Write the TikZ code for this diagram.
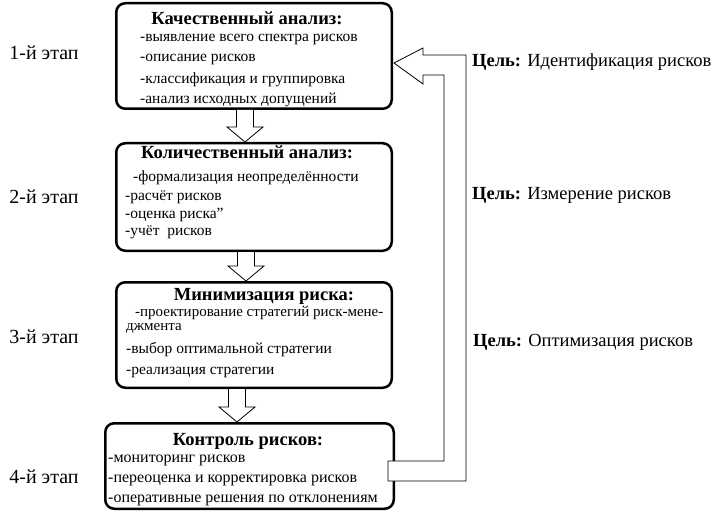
\documentclass[tikz,border=0pt]{standalone}
\usepackage{fontspec}
\setmainfont{Liberation Serif}
\usetikzlibrary{calc}
\tikzset{
  stagebox/.style={draw, line width=2.5pt, rounded corners=9pt, fill=white},
  blockarrow/.style={draw, line width=0.8pt, fill=white, line join=miter},
  boxtitle/.style={inner sep=0pt, font=\fontsize{18.5}{20}\selectfont\bfseries},
  itemtext/.style={anchor=west, inner sep=0pt, font=\fontsize{15.5}{17}\selectfont},
  stagelabel/.style={inner sep=0pt, font=\fontsize{20}{22}\selectfont},
  goallabel/.style={anchor=west, inner sep=0pt, font=\fontsize{18.5}{20}\selectfont},
}
\def\stagearrow(#1)(#2)(#3){%
  \coordinate (ax) at (#3,0);
  \draw[blockarrow] ($(ax |- #1.south)+(-8.5,0)$) -- ($(ax |- #2.north)+(-8.5,-15)$) -- ++(-9.5,0) -- (ax |- #2.north) -- ++(18,-15) -- ++(-9.5,0) -- ($(ax |- #1.south)+(8.5,0)$);}

\begin{document}
\begin{tikzpicture}[x=1pt, y=-1pt]
  %%%%% START %%%%%
  \useasboundingbox (0,0) rectangle (720,513);

  \node[stagebox, minimum width=275.5pt, minimum height=105.5pt] (qual) at (254,56) {};
  \node[stagebox, minimum width=275.5pt, minimum height=107.5pt] (quant) at (254,197) {};
  \node[stagebox, minimum width=275.5pt, minimum height=105.5pt] (minim) at (254,335) {};
  \node[stagebox, minimum width=288.5pt, minimum height=85.5pt] (ctrl) at (249.5,466) {};

  % stage 1
  \node[boxtitle] (qualtitle) at (247,18) {Качественный анализ:};
  \node[itemtext] (q1) at (140,40) {-выявление всего спектра рисков};
  \node[itemtext] (q2) at (140,60) {-описание рисков};
  \node[itemtext] (q3) at (140,80) {-классификация и группировка};
  \node[itemtext] (q4) at (140,100) {-анализ исходных допущений};

  % stage 2
  \node[boxtitle] (quanttitle) at (247,152) {Количественный анализ:};
  \node[itemtext] (k1) at (133,178) {-формализация неопределённости};
  \node[itemtext] (k2) at (125,197) {-расчёт рисков};
  \node[itemtext] (k3) at (125,215) {-оценка риска”};
  \node[itemtext] (k4) at (125,232) {-учёт \ рисков};

  % stage 3
  \node[boxtitle] (minimtitle) at (264,296) {Минимизация риска:};
  \node[itemtext, anchor=north west, align=left, font=\fontsize{15}{14}\selectfont] (m1) at (126,306) {\hspace*{9pt}-проектирование стратегий риск-мене-\\джмента};
  \node[itemtext] (m3) at (126,350) {-выбор оптимальной стратегии};
  \node[itemtext] (m4) at (126,372) {-реализация стратегии};

  % stage 4
  \node[boxtitle] (ctrltitle) at (248,441) {Контроль рисков:};
  \node[itemtext, font=\fontsize{16}{18}\selectfont] (c1) at (108,460) {-мониторинг рисков};
  \node[itemtext, font=\fontsize{16}{18}\selectfont] (c2) at (108,480) {-переоценка и корректировка рисков};
  \node[itemtext, font=\fontsize{16}{18}\selectfont] (c3) at (108,500) {-оперативные решения по отклонениям};

  \node[stagelabel] (st1) at (44,53) {1-й этап};
  \node[stagelabel] (st2) at (44,197) {2-й этап};
  \node[stagelabel] (st3) at (44,337) {3-й этап};
  \node[stagelabel] (st4) at (44,477) {4-й этап};

  \stagearrow(qual)(quant)(245)
  \stagearrow(quant)(minim)(246)
  \stagearrow(minim)(ctrl)(237)

  % feedback from control back to stage 1
  \coordinate (fbstart) at ($(ctrl.east)+(-7,5)$);
  \coordinate (fbtip) at ($(qual.east)+(1,7)$);
  \draw[blockarrow] (fbstart) -- ++(0,-10) -- ++(56,0) -- ++(0,-386) -- ++(-21,0) -- ++(0,9) -- (fbtip) -- ++(29,-15) -- ++(0,7) -- ++(43,0) -- ++(0,426) -- ++(-78,0) -- cycle;

  \node[goallabel] (g1) at (472,62) {\textbf{Цель:} Идентификация рисков};
  \node[goallabel] (g2) at (472,195) {\textbf{Цель:} Измерение рисков};
  \node[goallabel] (g3) at (473,342) {\textbf{Цель:} Оптимизация рисков};

  %%%%% END %%%%%
\end{tikzpicture}
\end{document}
